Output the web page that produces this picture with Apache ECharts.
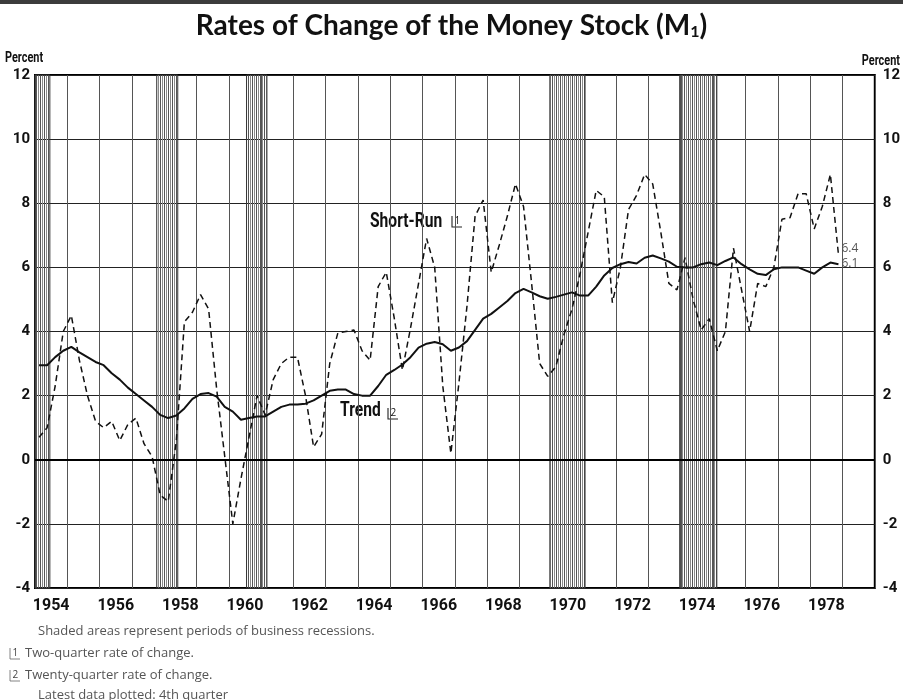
<!DOCTYPE html>
<html>
<head>
<meta charset="utf-8">
<script src="https://cdn.jsdelivr.net/npm/echarts@6/dist/echarts.min.js"></script>
<style>
  html, body { margin: 0; padding: 0; background: #fff; }
  #chart { width: 903px; height: 700px; }
</style>
</head>
<body>
<div id="chart"></div>
<script>
// quarterly data, 1954 Q1 .. 1978 Q4 (one row per year)
const startYear = 1954;
const yearLabels = ['1954', '1955', '1956', '1957', '1958', '1959', '1960', '1961', '1962',
  '1963', '1964', '1965', '1966', '1967', '1968', '1969', '1970', '1971', '1972', '1973',
  '1974', '1975', '1976', '1977', '1978', '1979'];

// two-quarter rate of change
const shortRun = [
  0.7, 1.0, 2.3, 4.0,
  4.5, 3.1, 2.0, 1.2,
  1.0, 1.2, 0.6, 1.1,
  1.3, 0.5, 0.1, -1.1,
  -1.3, 0.6, 4.3, 4.6,
  5.15, 4.7, 2.2, 0.1,
  -2.0, -0.6, 0.7, 2.0,
  1.4, 2.5, 3.0, 3.2,
  3.2, 2.0, 0.4, 0.8,
  3.0, 3.95, 4.0, 4.05,
  3.4, 3.1, 5.4, 5.85,
  4.4, 2.8, 4.1, 5.5,
  6.9, 6.0, 2.3, 0.2,
  2.4, 4.8, 7.6, 8.1,
  5.85, 6.7, 7.6, 8.6,
  7.9, 5.5, 3.0, 2.6,
  2.9, 3.9, 4.7, 5.8,
  7.1, 8.4, 8.2, 4.9,
  6.0, 7.8, 8.25, 8.9,
  8.6, 7.1, 5.5, 5.3,
  6.3, 5.0, 4.05, 4.4,
  3.4, 4.0, 6.6, 5.3,
  4.0, 5.5, 5.4, 6.0,
  7.5, 7.55, 8.3, 8.3,
  7.2, 7.9, 8.9, 6.4
];

// twenty-quarter rate of change
const trend = [
  2.95, 2.95, 3.2, 3.4,
  3.52, 3.35, 3.2, 3.05,
  2.95, 2.7, 2.5, 2.25,
  2.05, 1.85, 1.65, 1.4,
  1.3, 1.38, 1.6, 1.9,
  2.05, 2.08, 1.97, 1.65,
  1.5, 1.25, 1.3, 1.35,
  1.35, 1.5, 1.65, 1.72,
  1.72, 1.75, 1.85, 2.0,
  2.15, 2.19, 2.19, 2.05,
  2.0, 2.0, 2.3, 2.65,
  2.8, 2.97, 3.2, 3.5,
  3.62, 3.67, 3.6, 3.4,
  3.5, 3.7, 4.05, 4.4,
  4.55, 4.75, 4.95, 5.2,
  5.33, 5.22, 5.1, 5.02,
  5.08, 5.15, 5.22, 5.12,
  5.12, 5.4, 5.75, 5.98,
  6.1, 6.17, 6.12, 6.3,
  6.37, 6.28, 6.18, 6.02,
  6.0, 6.0, 6.1, 6.15,
  6.07, 6.2, 6.31, 6.1,
  5.94, 5.8, 5.76, 5.94,
  6.0, 6.0, 6.0, 5.9,
  5.8, 6.0, 6.15, 6.1
];

// business recessions (start, end in fractional years)
const recessionStart = [1954.0, 1957.77, 1960.55, 1969.94, 1973.96];
const recessionEnd = [1954.46, 1958.42, 1961.18, 1971.03, 1975.11];

const numFont = "Roboto, 'DejaVu Sans', sans-serif";
const noteFont = "'Open Sans', sans-serif";

// vertical hatching for recession bands
const hatch = document.createElement('canvas');
hatch.width = 4;
hatch.height = 8;
const hctx = hatch.getContext('2d');
hctx.fillStyle = '#555';
hctx.fillRect(0, 0, 1, 8);
hctx.fillStyle = '#8a8a8a';
hctx.fillRect(2, 0, 1, 8);

const toPoints = vals => vals.map((v, i) => [startYear + (i + 0.5) / 4, v]);

// little bracketed footnote number
function footMark(x, y, n, dark) {
  return {
    type: 'group', x: x, y: y, silent: true,
    children: [
      { type: 'polyline', shape: { points: [[0, 0], [0, 11], [10, 11]] },
        style: { stroke: dark ? '#222' : '#666', lineWidth: dark ? 1.1 : 0.8, fill: null } },
      { type: 'text', x: 2.5, y: 0,
        style: { text: n, fontFamily: noteFont, fontSize: 10, fill: dark ? '#111' : '#444' } }
    ]
  };
}

// condensed bold label (narrow face is not installed, so squeeze it)
function boldLabel(x, y, text, size, align) {
  return {
    type: 'text', x: x, y: y, scaleX: 0.78, silent: true,
    style: { text: text, fontFamily: numFont, fontSize: size, fontWeight: 'bold', fill: '#111', align: align || 'left' }
  };
}

const chart = echarts.init(document.getElementById('chart'));

chart.setOption({
  animation: false,
  backgroundColor: '#fff',
  title: {
    text: '{a|Rates of Change of the Money Stock (M}{s|1}{a|)}',
    left: 'center',
    top: 6,
    textStyle: {
      rich: {
        a: { fontFamily: 'Lato', fontSize: 28, fontWeight: 'bold', color: '#111' },
        s: { fontFamily: 'Lato', fontSize: 16, fontWeight: 'bold', color: '#111', padding: [13, 0, 0, 0] }
      }
    }
  },
  grid: {
    left: 35, right: 28, top: 75, bottom: 112,
    show: true, borderColor: '#000', borderWidth: 2
  },
  xAxis: [
    {
      type: 'value', min: 1954, max: 1980, interval: 1,
      axisLine: { show: false }, axisTick: { show: false }, axisLabel: { show: false },
      splitLine: { show: true, lineStyle: { color: '#555', width: 1 } }
    },
    {
      type: 'category', data: yearLabels, position: 'bottom', boundaryGap: true,
      axisLine: { show: false }, axisTick: { show: false }, splitLine: { show: false },
      axisLabel: { interval: 1, fontFamily: numFont, fontSize: 16, fontWeight: 'bold', color: '#111', margin: 10 }
    }
  ],
  yAxis: [
    {
      type: 'value', min: -4, max: 12, interval: 2, position: 'left',
      axisLine: { show: false }, axisTick: { show: false },
      axisLabel: { fontFamily: numFont, fontSize: 15, fontWeight: 'bold', color: '#111', margin: 5 },
      splitLine: { lineStyle: { color: '#222', width: 1 } }
    },
    {
      type: 'value', min: -4, max: 12, interval: 2, position: 'right',
      axisLine: { show: false }, axisTick: { show: false },
      axisLabel: { fontFamily: numFont, fontSize: 15, fontWeight: 'bold', color: '#111', margin: 8 },
      splitLine: { show: false }
    }
  ],
  series: [
    {
      name: 'Trend',
      type: 'line',
      data: toPoints(trend),
      symbol: 'none',
      lineStyle: { color: '#111', width: 2 },
      endLabel: {
        show: true, formatter: p => p.value[1].toFixed(1),
        fontFamily: noteFont, fontSize: 12, color: '#555', distance: 3, offset: [0, -1]
      },
      markArea: {
        silent: true,
        itemStyle: { color: { image: hatch, repeat: 'repeat' }, borderColor: '#333', borderWidth: 1 },
        data: recessionStart.map((s, i) => [{ xAxis: s }, { xAxis: recessionEnd[i] }])
      },
      markLine: {
        silent: true, symbol: ['none', 'none'], label: { show: false },
        lineStyle: { color: '#000', width: 2, type: 'solid' },
        data: [{ yAxis: 0 }]
      }
    },
    {
      name: 'Short-Run',
      type: 'line',
      data: toPoints(shortRun),
      symbol: 'none',
      lineStyle: { color: '#111', width: 1.5, type: [6, 4] },
      endLabel: {
        show: true, formatter: p => p.value[1].toFixed(1),
        fontFamily: noteFont, fontSize: 12, color: '#555', distance: 3, offset: [0, -6]
      }
    }
  ],
  graphic: [
    { type: 'rect', left: 0, top: 0, shape: { width: 903, height: 4 }, style: { fill: '#3c3c3c' }, silent: true },
    boldLabel(5, 51, 'Percent', 14),
    boldLabel(900, 54, 'Percent', 14, 'right'),
    boldLabel(370, 212, 'Short-Run', 20),
    footMark(452, 216, '1', true),
    boldLabel(340, 401, 'Trend', 20),
    footMark(388, 408, '2', true),
    { type: 'text', x: 38, y: 625, style: { text: 'Shaded areas represent periods of business recessions.', fontFamily: noteFont, fontSize: 13, fill: '#555' } },
    footMark(10, 648, '1'),
    { type: 'text', x: 25, y: 647, style: { text: 'Two-quarter rate of change.', fontFamily: noteFont, fontSize: 13, fill: '#555' } },
    footMark(10, 670, '2'),
    { type: 'text', x: 25, y: 669, style: { text: 'Twenty-quarter rate of change.', fontFamily: noteFont, fontSize: 13, fill: '#555' } },
    { type: 'text', x: 38, y: 689, style: { text: 'Latest data plotted: 4th quarter', fontFamily: noteFont, fontSize: 13, fill: '#555' } }
  ]
});
</script>
</body>
</html>
